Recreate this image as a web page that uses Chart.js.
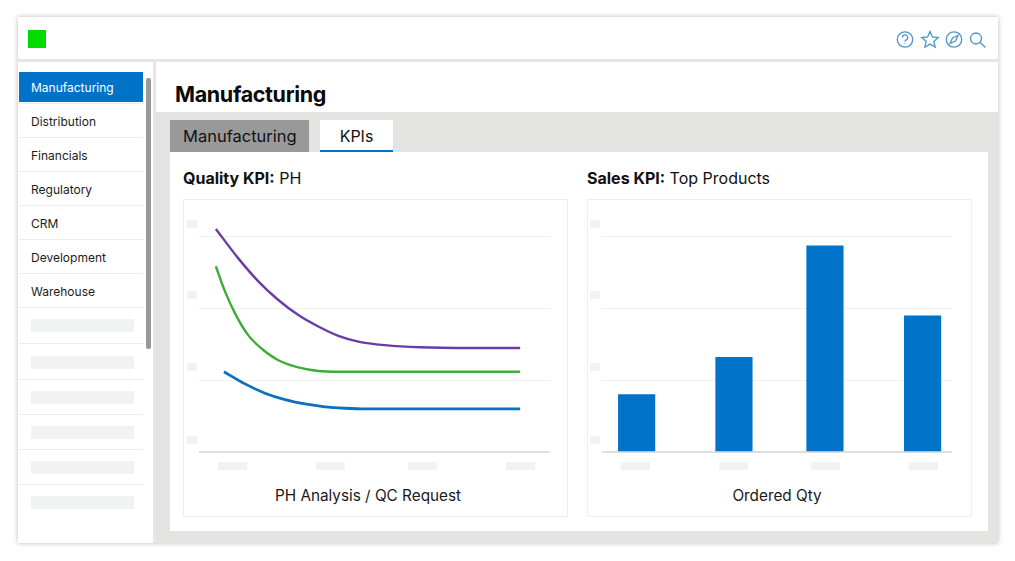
<!DOCTYPE html>
<html><head><meta charset="utf-8">
<script src="https://cdn.jsdelivr.net/npm/chart.js@4"></script>
<style>
html,body{margin:0;padding:0;background:#fff;width:1015px;height:561px;overflow:hidden;font-family:Inter,sans-serif;color:#111}
.a{position:absolute}
.nav{position:absolute;left:31px;font-size:12px;line-height:16px;color:#1c1c1c}
.rule{position:absolute;left:19px;width:124px;height:1px;background:#ececec}
.ph{position:absolute;background:#f1f3f3}
</style></head><body>
<div class="a" style="left:18px;top:17px;width:980px;height:526px;background:#fff;box-shadow:0 0 5px rgba(0,0,0,.28)"></div>
<div class="a" style="left:18px;top:59px;width:980px;height:3px;background:#e6e6e6"></div>
<div class="a" style="left:28px;top:30px;width:18px;height:18px;background:#00dc00"></div>
<svg class="a" style="left:895px;top:29px" width="94" height="22" fill="none" stroke="#4b96c8" stroke-width="1.3">
 <circle cx="10" cy="10.500" r="7.700"/><path d="M7.500 8.500a2.600 2.600 0 1 1 3.600 2.400c-.8.4-1.100.9-1.100 1.800M10 14.200v.9"/>
 <path d="M35 2.500l2.400 5.500 5.900.5-4.500 3.900 1.400 5.800-5.200-3.100-5.200 3.100 1.400-5.800-4.500-3.900 5.900-.5z"/>
 <circle cx="59" cy="10.500" r="7.700"/><path d="M63 6.500l-2.500 5.500-5.500 2.500 2.500-5.500z"/>
 <circle cx="81" cy="9.500" r="5.500"/><path d="M85 13.500l5.500 5"/>
</svg>

<div class="a" style="left:153px;top:62px;width:3px;height:481px;background:#e6e6e6"></div>
<div class="a" style="left:19px;top:72px;width:124px;height:30px;background:#0073c8"></div>
<div class="a" style="left:146px;top:78px;width:5px;height:271px;background:#999;border-radius:2px"></div>
<div id="side"></div>

<div class="a" style="left:175px;top:79px;font-size:21.500px;line-height:30px;font-weight:700;letter-spacing:-.35px;color:#0a0a0a">Manufacturing</div>
<div class="a" style="left:156px;top:112px;width:842px;height:431px;background:#e3e3e1"></div>
<div class="a" style="left:170px;top:120px;width:139px;height:32px;background:#999"></div>
<div class="a" style="left:183px;top:124px;font-size:16.500px;line-height:24px;color:#111">Manufacturing</div>
<div class="a" style="left:320px;top:120px;width:73px;height:30px;background:#fff;border-bottom:3px solid #0073c8"></div>
<div class="a" style="left:320px;top:124px;width:73px;text-align:center;font-size:16px;line-height:24px;color:#111">KPIs</div>
<div class="a" style="left:170px;top:152px;width:818px;height:379px;background:#fff"></div>
<div class="a" style="left:183px;top:167px;font-size:16px;line-height:22px;color:#111"><b>Quality KPI:</b> PH</div>
<div class="a" style="left:587px;top:167px;font-size:16px;line-height:22px;color:#111"><b>Sales KPI:</b> Top Products</div>
<div class="a" style="left:183px;top:199px;width:383px;height:316px;border:1px solid #eeeeee"></div>
<div class="a" style="left:587px;top:199px;width:383px;height:316px;border:1px solid #eeeeee"></div>
<div id="phs"></div>
<div class="a" style="left:183px;top:201px;width:385px;height:253px"><canvas id="lineChart"></canvas></div>
<div class="a" style="left:587px;top:201px;width:385px;height:253px"><canvas id="barChart"></canvas></div>
<div class="a" id="lineTitle" style="left:168px;top:485px;width:400px;text-align:center;font-size:15.300px;line-height:22px;color:#1a1a1a"></div>
<div class="a" id="barTitle" style="left:577px;top:485px;width:400px;text-align:center;font-size:15.300px;line-height:22px;color:#1a1a1a"></div>

<script>
const navItems = ["Manufacturing","Distribution","Financials","Regulatory","CRM","Development","Warehouse"];

const purpleX = [4.8,11.2,16.9,22.6,28.3,34,39.7,45.4,53,63,77.2,91.5];
const purpleY = [3.11,2.70,2.38,2.12,1.91,1.75,1.62,1.54,1.49,1.46,1.45,1.45];
const greenX  = [4.8,7.4,10.3,14,17.9,22.6,28.3,34,39.7,53,91.5];
const greenY  = [2.59,2.24,1.93,1.63,1.44,1.28,1.18,1.13,1.12,1.12,1.12];
const blueX   = [7.1,13.1,18.8,24.5,30.2,35.9,41.6,47.3,53,68,91.5];
const blueY   = [1.12,0.95,0.82,0.73,0.67,0.63,0.61,0.60,0.60,0.60,0.60];

const barX = [9.9,37.7,63.7,91.6];
const barY = [0.80,1.32,2.875,1.90];

const lineAxisTitle = "PH Analysis / QC Request";
const barAxisTitle = "Ordered Qty";

const zip = (xs, ys) => xs.map((x, i) => ({x, y: ys[i]}));

document.getElementById('lineTitle').textContent = lineAxisTitle;
document.getElementById('barTitle').textContent = barAxisTitle;

/* sidebar */
const side = document.getElementById('side');
navItems.forEach((t, i) => {
  const n = document.createElement('div');
  n.className = 'nav';
  n.textContent = t;
  n.style.top = (80 + i * 34) + 'px';
  if (i === 0) n.style.color = '#fff';
  side.appendChild(n);
  if (i > 0) { const r = document.createElement('div'); r.className = 'rule'; r.style.top = (103 + (i-1) * 34) + 'px'; side.appendChild(r); }
});
[[307,319],[343,356],[379,391],[414,426],[449,461],[484,496]].forEach(([ry, py]) => {
  const r = document.createElement('div'); r.className = 'rule'; r.style.top = ry + 'px'; side.appendChild(r);
  const p = document.createElement('div'); p.className = 'ph';
  p.style.cssText = `left:31px;top:${py}px;width:103px;height:13px`; side.appendChild(p);
});

/* skeleton tick placeholders */
const phs = document.getElementById('phs');
const box = (l, t, w, h) => { const p = document.createElement('div'); p.className = 'ph'; p.style.cssText = `left:${l}px;top:${t}px;width:${w}px;height:${h}px`; phs.appendChild(p); };
[187, 590].forEach(l => [220, 291, 363, 436].forEach(t => box(l, t, 10, 8)));
[218, 316, 408, 506].forEach(l => box(l, 462, 29, 8));
[622, 720, 812, 910].forEach(l => box(l - 1, 462, 29, 8));

const scales = () => ({
  x: {
    type: 'linear', min: 0, max: 100, offset: false,
    grid: { display: false, drawTicks: false },
    border: { display: false },
    ticks: { display: false }
  },
  y: {
    min: 0, max: 3.5,
    grid: { color: ctx => ctx.tick.value === 0 ? '#dedede' : '#f1f1f1', lineWidth: ctx => ctx.tick.value === 0 ? 2 : 1, drawTicks: false },
    border: { display: false },
    ticks: { display: false, stepSize: 1, includeBounds: false }
  }
});
const base = (left, right) => ({
  responsive: true, maintainAspectRatio: false, animation: false,
  layout: { padding: { left, right, top: 0, bottom: 2 } },
  plugins: { legend: { display: false }, tooltip: { enabled: false } },
  scales: scales()
});
const series = (xs, ys, color, w) => ({
  data: zip(xs, ys), borderColor: color, borderWidth: w, pointRadius: 0,
  cubicInterpolationMode: 'monotone', fill: false
});
new Chart(document.getElementById('lineChart'), {
  type: 'line',
  data: { datasets: [ series(purpleX, purpleY, '#6a3da6', 2.4), series(greenX, greenY, '#3dac38', 2.4), series(blueX, blueY, '#0a70bf', 2.8) ] },
  options: base(16, 18)
});
new Chart(document.getElementById('barChart'), {
  type: 'bar',
  data: { datasets: [{ data: zip(barX, barY), backgroundColor: '#0173c9', barThickness: 36.5 }] },
  options: base(15, 20)
});
</script>
</body></html>
